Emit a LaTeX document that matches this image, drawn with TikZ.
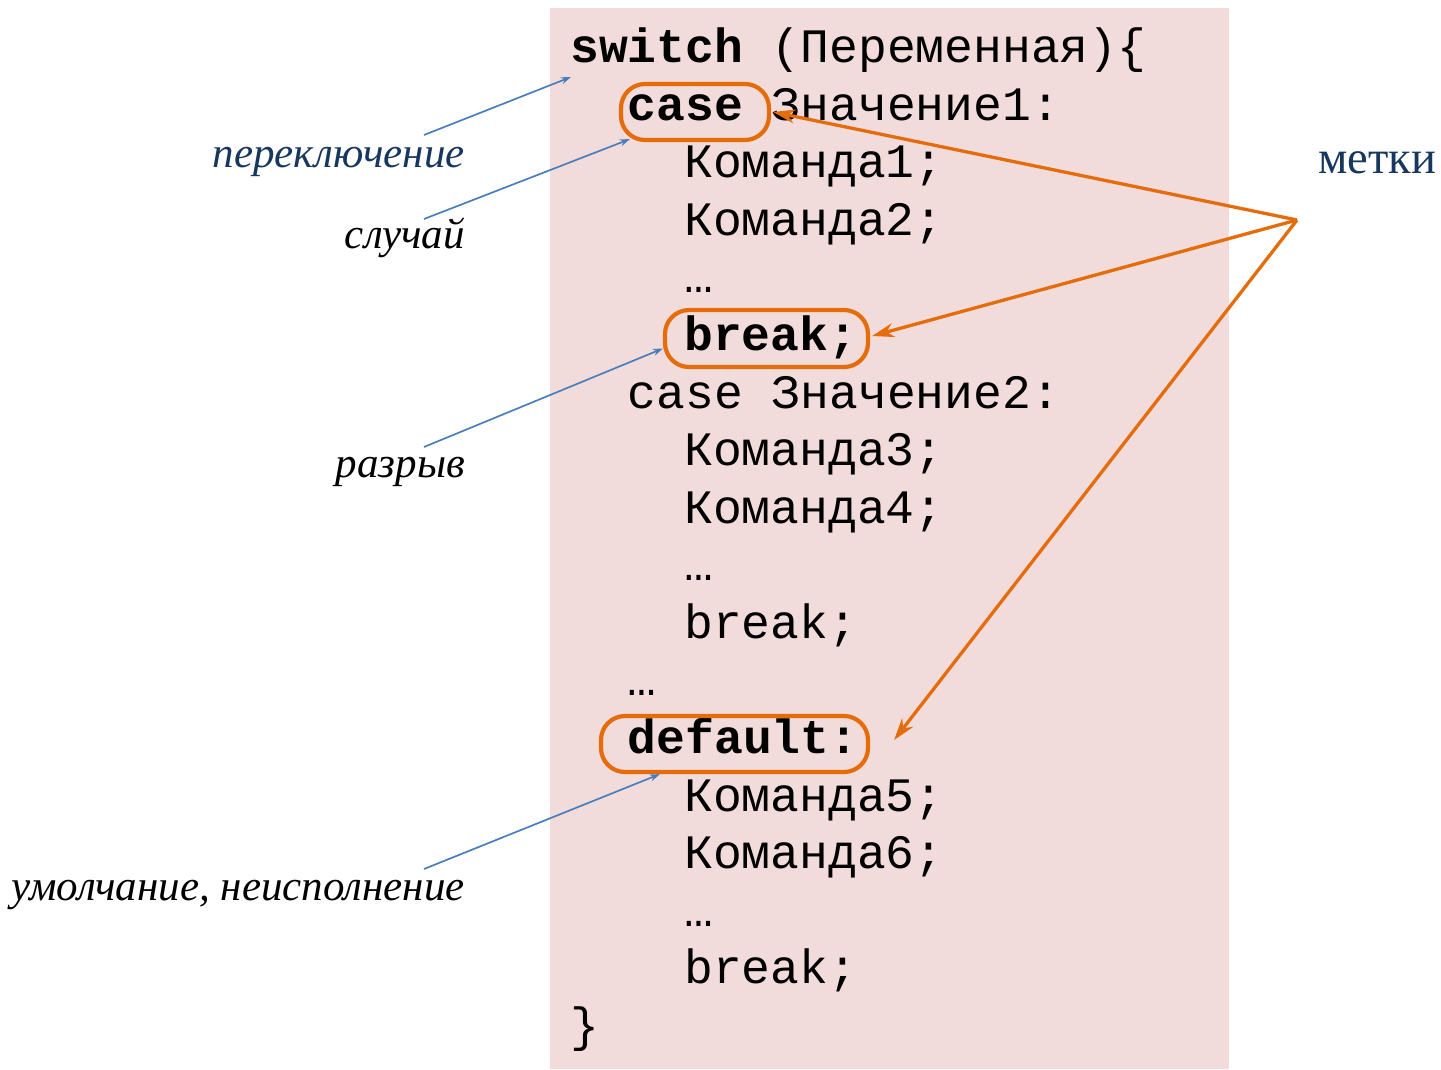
\documentclass[tikz,border=0pt]{standalone}
\usepackage{fontspec}
\setmainfont{Liberation Serif}
\newfontfamily\codefont{Liberation Mono}
\usetikzlibrary{arrows.meta}
\definecolor{pinkbg}{RGB}{242,220,219}
\definecolor{orng}{RGB}{228,108,10}
\definecolor{bluel}{RGB}{74,126,187}
\definecolor{navy}{RGB}{23,55,94}
\tikzset{
  code/.style={anchor=base west, inner sep=0pt, font=\codefont\fontsize{48}{57.6}\selectfont},
  lbl/.style={anchor=base east, inner sep=0pt, font=\itshape\fontsize{43}{50}\selectfont},
  hl/.style={draw=orng, line width=4.2pt, rounded corners=24pt, inner sep=0pt},
  oarr/.style={draw=orng, line width=3.3pt, -{Stealth[length=22pt,width=14pt]}},
  barr/.style={draw=bluel, line width=1.7pt, -{Stealth[length=10pt,width=7pt]}}
}
\begin{document}
\begin{tikzpicture}[x=1pt,y=-1pt]
\useasboundingbox (0,0) rectangle (1441,1069);
\fill[pinkbg] (550,8) rectangle (1229,1069);
% code lines
\node[code] (l0) at (570,62) {\textbf{switch} (Переменная)\{};
\node[code] (l1) at (627.6,120) {\textbf{case} Значение1:};
\node[code] (l2) at (684,177) {Команда1;};
\node[code] (l3) at (684,235) {Команда2;};
\node[code] (l4) at (684,292) {…};
\node[code] (l5) at (684,350) {\textbf{break;}};
\node[code] (l6) at (627.6,408) {case Значение2:};
\node[code] (l7) at (684,465) {Команда3;};
\node[code] (l8) at (684,523) {Команда4;};
\node[code] (l9) at (684,580) {…};
\node[code] (l10) at (684,638) {break;};
\node[code] (l11) at (627.6,695) {…};
\node[code] (l12) at (627.6,753) {\textbf{default:}};
\node[code] (l13) at (684,811) {Команда5;};
\node[code] (l14) at (684,868) {Команда6;};
\node[code] (l15) at (684,926) {…};
\node[code] (l16) at (684,983) {break;};
\node[code] (l17) at (570,1041) {\}};
% highlight outlines
\node[hl, minimum width=148pt, minimum height=56pt] (caseHL) at (695,112) {};
\node[hl, minimum width=203pt, minimum height=57pt] (breakHL) at (766.5,338.5) {};
\node[hl, minimum width=267pt, minimum height=56pt] (defHL) at (734.5,744) {};
% labels
\node[anchor=base west, inner sep=0pt, text=navy, font=\fontsize{46.5}{54}\selectfont] (metki) at (1318,173) {метки};
\node[lbl, text=navy] (sw) at (465,167) {переключение};
\node[lbl] (sl) at (465,248) {случай};
\node[lbl] (rz) at (465,477) {разрыв};
\node[lbl] (um) at (465,900) {умолчание, неисполнение};
% connector start points
\coordinate (hub) at (1297,220);
\coordinate (swS) at (424,135);
\coordinate (slS) at (424,219);
\coordinate (rzS) at (424,447);
\coordinate (umS) at (424,869);
\coordinate (swE) at (571,77);
% orange arrows
\draw[oarr] (hub) -- ([xshift=2pt]caseHL.east);
\draw[oarr] (hub) -- ([xshift=2pt,yshift=2.5pt]breakHL.east);
\draw[oarr] (hub) -- ([xshift=24pt,yshift=4pt]defHL.east);
% blue arrows
\draw[barr] (swS) -- (swE);
\draw[barr] (slS) -- ([xshift=11pt,yshift=3pt]caseHL.south west);
\draw[barr] (rzS) -- ([yshift=-10pt]breakHL.west);
\draw[barr] (umS) -- ([xshift=61pt]defHL.south west);
\end{tikzpicture}
\end{document}
